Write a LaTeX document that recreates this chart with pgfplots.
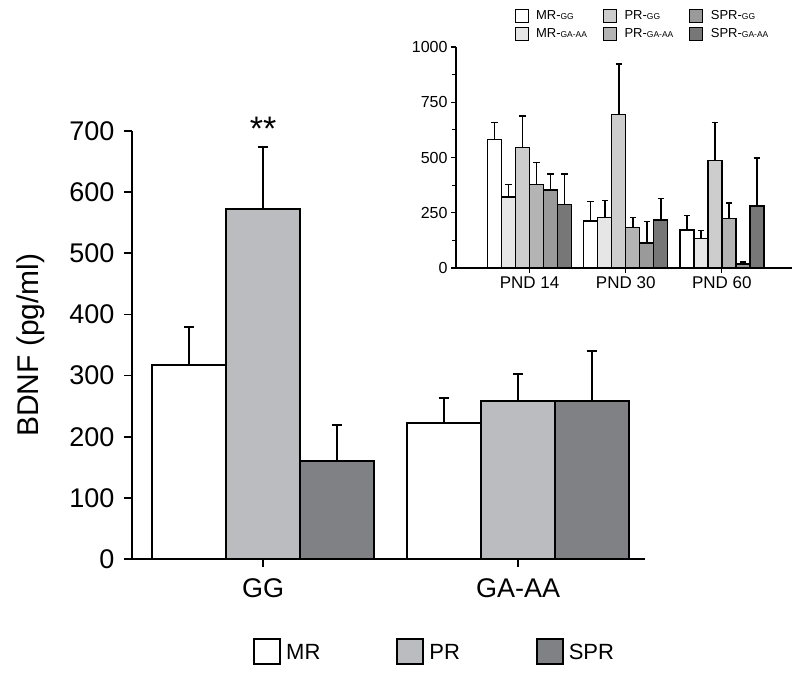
\documentclass[border=0pt]{standalone}
\usepackage{pgfplots}
\pgfplotsset{compat=1.18}
\usepackage{fontspec}
\setmainfont{Liberation Sans}
\definecolor{prc}{HTML}{BBBCC0}
\definecolor{sprc}{HTML}{808185}
\definecolor{ia}{HTML}{FFFFFF}
\definecolor{ib}{HTML}{E6E6E6}
\definecolor{ic}{HTML}{CDCDCD}
\definecolor{id}{HTML}{B4B4B4}
\definecolor{ie}{HTML}{9A9A9A}
\definecolor{if}{HTML}{777777}
\pgfplotstableread{
x y e
0 317 63
1 222 41
}\mr
\pgfplotstableread{
x y e
0 573 101
1 258 45
}\pr
\pgfplotstableread{
x y e
0 160 59
1 258 82
}\spr
\pgfplotstableread{
x y e
0 582 76
1 213 87
2 172 66
}\mrgg
\pgfplotstableread{
x y e
0 321 56
1 228 78
2 134 36
}\mrga
\pgfplotstableread{
x y e
0 544 145
1 694 229
2 487 171
}\prgg
\pgfplotstableread{
x y e
0 379 99
1 182 46
2 223 71
}\prga
\pgfplotstableread{
x y e
0 353 71
1 113 98
2 18 8
}\sprgg
\pgfplotstableread{
x y e
0 287 137
1 217 98
2 281 217
}\sprga
\pgfplotsset{
  mainbar/.style={draw=black, line width=1.8pt, bar width=0.29,
    error bars/.cd, y dir=plus, y explicit, error mark=|,
    error bar style={line width=1.8pt, black},
    error mark options={line width=1.8pt, mark size=5pt, black, solid}},
  insbar/.style={draw=black, line width=1.4pt, bar width=0.1458,
    error bars/.cd, y dir=plus, y explicit, error mark=|,
    error bar style={line width=1.6pt, black},
    error mark options={line width=1.6pt, mark size=3.2pt, black, solid}},
}
\begin{document}
\begin{tikzpicture}[x=1pt,y=1pt]
\path[use as bounding box] (0,0) rectangle (800,674);
% main axis
\begin{axis}[
  at={(132pt,115pt)}, anchor=south west,
  scale only axis, width=513pt, height=428pt,
  xmin=-0.514, xmax=1.498, ymin=0, ymax=700,
  axis x line=bottom, axis y line=left,
  axis line style={-, line width=1.6pt},
  ytick={0,100,...,700}, xtick={0,1}, xticklabels={GG,GA-AA},
  tick align=outside, major tick length=8pt,
  tick style={line width=1.6pt, black},
  tick label style={font=\fontsize{27}{30}\selectfont},
  yticklabel style={xshift=-6pt},
  xticklabel style={yshift=-8pt},
  /pgf/number format/assume math mode=true,
  ylabel={BDNF (pg/ml)},
  ylabel style={font=\fontsize{30}{34}\selectfont, yshift=18pt},
  clip=false, ybar=0pt,
  legend columns=3, legend cell align=left,
  legend style={draw=none, fill=none, at={(0.590,-0.217)}, anchor=center,
    font=\fontsize{22}{26}\selectfont,
    /tikz/every even column/.append style={column sep=74pt}},
  legend image code/.code={\draw[#1, line width=1.8pt] (0pt,-12pt) rectangle (26pt,13pt);
    \path[draw=none, fill=none] (0pt,0pt) -- (30pt,0pt);},
]
\addplot[bar shift=-0.29, fill=white, mainbar] table[x=x,y=y,y error=e]{\mr};
\addlegendentry{MR}
\addplot[bar shift=0, fill=prc, mainbar] table[x=x,y=y,y error=e]{\pr};
\addlegendentry{PR}
\addplot[bar shift=0.29, fill=sprc, mainbar] table[x=x,y=y,y error=e]{\spr};
\addlegendentry{SPR}
\node[anchor=north, font=\fontsize{34}{34}\selectfont] at (axis cs:0,728) {**};
\end{axis}
% inset
\begin{axis}[
  at={(456pt,406pt)}, anchor=south west,
  scale only axis, width=336pt, height=221pt,
  xmin=-0.766, xmax=2.73, ymin=0, ymax=1000,
  axis x line=bottom, axis y line=left,
  axis line style={-, line width=1.4pt},
  ytick={0,250,...,1000}, minor y tick num=1,
  xtick={0,1,2}, xticklabels={PND 14,PND 30,PND 60},
  tick align=outside, major tick length=5pt, minor tick length=4pt,
  tick style={line width=1.2pt, black},
  xticklabel style={font=\fontsize{17}{20}\selectfont},
  yticklabel style={font=\fontsize{16}{20}\selectfont},
  /pgf/number format/assume math mode=true,
  /pgf/number format/1000 sep={},
  clip=false, ybar=0pt,
  legend columns=3, legend cell align=left,
  legend style={draw=none, fill=none, at={(0.555,1.100)}, anchor=center,
    font=\fontsize{13}{15}\selectfont, row sep=3pt,
    /tikz/every even column/.append style={column sep=14pt}},
  legend image code/.code={\draw[#1, line width=1pt] (0pt,-6.5pt) rectangle (13pt,6.5pt);
    \path[draw=none, fill=none] (0pt,0pt) -- (19pt,0pt);},
]
\addplot[bar shift=-0.3646, fill=ia, insbar] table[x=x,y=y,y error=e]{\mrgg};
\addlegendentry{MR-{\fontsize{8.5}{8}\selectfont GG}}
\addplot[bar shift=-0.0729, fill=ic, insbar] table[x=x,y=y,y error=e]{\prgg};
\addlegendentry{PR-{\fontsize{8.5}{8}\selectfont GG}}
\addplot[bar shift=0.2188, fill=ie, insbar] table[x=x,y=y,y error=e]{\sprgg};
\addlegendentry{SPR-{\fontsize{8.5}{8}\selectfont GG}}
\addplot[bar shift=-0.2188, fill=ib, insbar] table[x=x,y=y,y error=e]{\mrga};
\addlegendentry{MR-{\fontsize{8.5}{8}\selectfont GA-AA}}
\addplot[bar shift=0.0729, fill=id, insbar] table[x=x,y=y,y error=e]{\prga};
\addlegendentry{PR-{\fontsize{8.5}{8}\selectfont GA-AA}}
\addplot[bar shift=0.3646, fill=if, insbar] table[x=x,y=y,y error=e]{\sprga};
\addlegendentry{SPR-{\fontsize{8.5}{8}\selectfont GA-AA}}
\end{axis}
\end{tikzpicture}
\end{document}
